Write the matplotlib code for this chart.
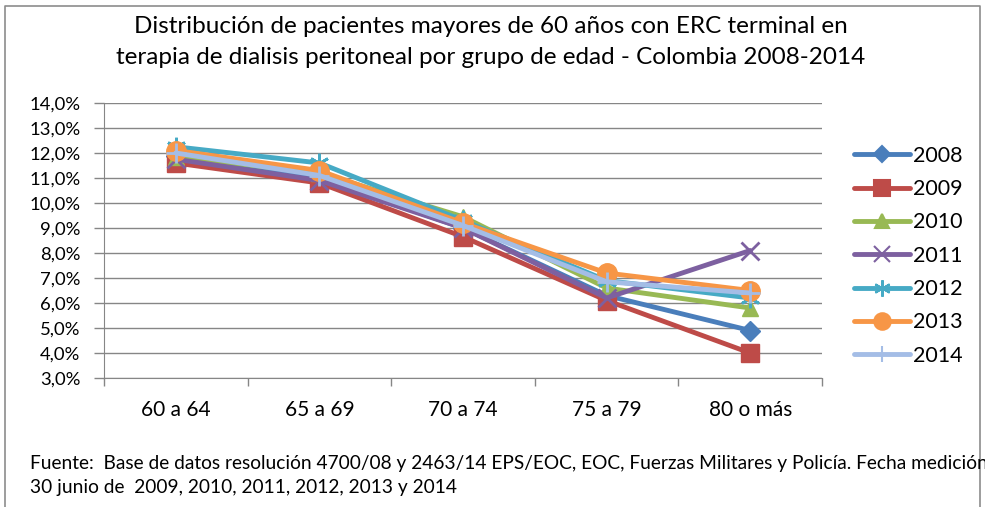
import numpy as np
import matplotlib.pyplot as plt
from matplotlib.lines import Line2D
from matplotlib.ticker import FixedLocator, FuncFormatter

# grupos de edad y años
grupos = ["60 a 64", "65 a 69", "70 a 74", "75 a 79", "80 o más"]
anios = ["2008", "2009", "2010", "2011", "2012", "2013", "2014"]

# porcentajes (%)
v2008 = [11.9, 11.0, 9.0, 6.3, 4.9]
v2009 = [11.6, 10.8, 8.65, 6.1, 4.0]
v2010 = [11.85, 11.2, 9.45, 6.6, 5.8]
v2011 = [11.75, 10.9, 9.0, 6.2, 8.1]
v2012 = [12.25, 11.6, 9.3, 6.9, 6.2]
v2013 = [12.1, 11.3, 9.2, 7.2, 6.5]
v2014 = [12.0, 11.1, 9.1, 6.85, 6.4]
series = [v2008, v2009, v2010, v2011, v2012, v2013, v2014]

colores = ["#4A7EBB", "#BE4B48", "#98B954", "#7D60A0", "#46AAC5", "#F79646", "#A4BDE6"]
marcadores = ["D", "s", "^", "x", (6, 2, 0), "o", "+"]
tam_marc = [10, 13, 12, 13, 14, 14, 14]

titulo = ("Distribución de pacientes mayores de 60 años con ERC terminal en\n"
          "terapia de dialisis peritoneal por grupo de edad - Colombia 2008-2014")
fuente = ("Fuente:  Base de datos resolución 4700/08 y 2463/14 EPS/EOC, EOC, Fuerzas "
          "Militares y Policía. Fecha medición\n30 junio de  2009, 2010, 2011, 2012, 2013 y 2014")

W, H = 985, 507
plt.rcParams['font.family'] = ['Lato', 'DejaVu Sans']

fig = plt.figure(figsize=(W / 100, H / 100), dpi=100)
fondo = fig.add_axes([0, 0, 1, 1])
fondo.set_xlim(0, W)
fondo.set_ylim(H, 0)
fondo.axis("off")

# marco del grafico
fondo.plot([5, 5, 980, 980], [H + 5, 6, 6, H + 5], color="#8C8C8C", lw=1.2, clip_on=False)

fondo.text(491, 42, titulo, ha="center", va="center", fontsize=17.5, linespacing=1.55)
t = fondo.text(30, 475, fuente, ha="left", va="center", fontsize=13.8, linespacing=1.5)
# recorte del texto de la fuente en el borde derecho (como en el original)
t.set_clip_path(plt.Rectangle((0, 0), 978, H, transform=fondo.transData))

ax = fig.add_axes([104 / W, 1 - 378 / H, (822 - 104) / W, (378 - 103) / H])
x = np.arange(len(grupos))
for vals, col, m, ms in zip(series, colores, marcadores, tam_marc):
    ax.plot(x, vals, color=col, lw=3.5, marker=m, markersize=ms,
            markeredgewidth=2 if m in ("x", "+") or isinstance(m, tuple) else 1,
            markeredgecolor=col, markerfacecolor=col, solid_capstyle="round")

ax.set_xlim(-0.5, len(grupos) - 0.5)
ax.set_ylim(3, 14)
ax.set_yticks(np.arange(3, 14.01, 1))
ax.yaxis.set_major_formatter(FuncFormatter(lambda v, p: f"{v:.1f}%".replace(".", ",")))
ax.yaxis.grid(True, color="#868686", lw=1)
ax.set_axisbelow(True)

ax.xaxis.set_major_locator(FixedLocator(np.arange(-0.5, len(grupos))))
ax.xaxis.set_major_formatter(FuncFormatter(lambda v, p: ""))
ax.xaxis.set_minor_locator(FixedLocator(x))
ax.set_xticklabels(grupos, minor=True)
ax.tick_params(axis="x", which="major", length=6, color="#868686", width=1)
ax.tick_params(axis="x", which="minor", length=0, labelsize=15, pad=16)
ax.tick_params(axis="y", length=7, color="#868686", width=1, labelsize=13.3, pad=10)

for s in ["top", "right"]:
    ax.spines[s].set_visible(False)
for s in ["left", "bottom"]:
    ax.spines[s].set_color("#868686")

handles = [Line2D([], [], color=c, lw=3.5, marker=m, markersize=ms * 0.85,
                  markeredgewidth=1.5, markeredgecolor=c, markerfacecolor=c,
                  solid_capstyle="round")
           for c, m, ms in zip(colores, marcadores, tam_marc)]
fig.legend(handles, anios, loc="upper left", bbox_to_anchor=(843 / W, 1 - 135 / H),
           frameon=False, fontsize=15.5, handlelength=2.6, handletextpad=0.15,
           labelspacing=0.62, borderpad=0)

fig.savefig("out.png", dpi=100)
